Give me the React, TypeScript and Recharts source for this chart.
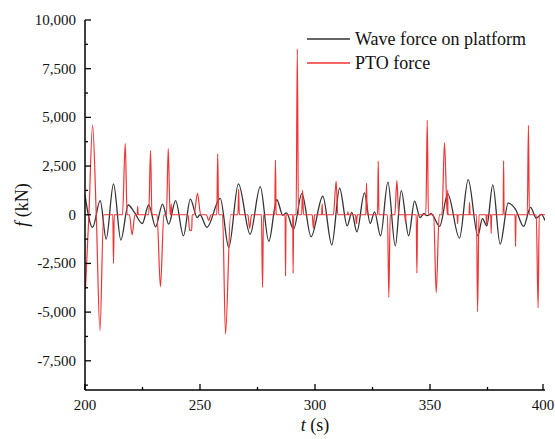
import React from "react";
import { LineChart, Line, XAxis, YAxis, Legend } from "recharts";

// wave force on platform: turning points (t in s, f in kN)
const waveTime = [
  200, 203.3, 206.6, 209.2, 212.4, 215.6, 218.8, 221.5, 224.9, 227.7, 230.7, 233.7, 236.4,
  239.4, 242.8, 245.8, 248.8, 250.0, 253.0, 258.8, 262.5, 266.7, 271.8, 276.2, 279.9, 283.4,
  286.0, 287.6, 290.7, 294.3, 298.3, 303.4, 307.3, 310.7, 314.0, 316.0, 318.2, 321.5, 324.0,
  325.9, 328.5, 331.7, 334.9, 337.5, 340.7, 343.3, 345.7, 347.3, 348.8, 350.5, 354.2, 357.7,
  362.8, 366.6, 370.8, 372.8, 374.7, 377.3, 380.5, 384.0, 387.2, 390.7, 393.7, 396.2, 398.4,
  400,
];
const waveForce = [
  1000, -650, 720, -1250, 1580, -1300, 500, 120, -450, 500, -620, 550, -480,
  720, -1080, 800, -150, 0, -650, 840, -1680, 1580, -1000, 1440, -1370, 770,
  -30, 100, -740, 1100, -1130, 950, -1550, 1360, -570, 120, -880, 1120, -450,
  150, -1080, 1670, -1600, 1240, -1080, 700, -150, 50, -50, 50, -600, 1070,
  -1200, 1800, -1080, -200, -570, 1530, -1510, 600, 280, -600, 380, -170, 20,
  -300,
];

// PTO force: zero with pulses
const ptoTime = [
  200.2, 201.7, 203.3, 204.9, 206.5, 208.1,
  212.1, 212.4, 212.7,
  216.3, 217.5, 218.3,
  219.3, 220.5, 221.7,
  222.7, 222.9, 223.1,
  227.7, 228.5, 229.1,
  231.3, 232.8, 234.3,
  235.4, 236.2, 237.0,
  237.3, 237.5, 237.7,
  244.8, 245.5, 246.4, 246.6,
  247.4, 248.9, 250.3,
  252.8, 253.8, 254.8,
  257.3, 257.7, 258.1,
  259.8, 261.1, 263.3,
  266.5, 266.8, 267.1,
  270.8, 271.6, 272.4,
  276.7, 277.2, 277.6,
  282.5, 282.8, 283.1,
  287.0, 287.2, 287.4,
  290.3, 290.5, 290.7,
  291.8, 292.3, 292.8,
  294.2, 294.6, 295.0,
  298.8, 299.3, 299.8,
  302.9, 303.1, 303.3,
  308.0, 309.2, 309.9,
  314.1, 314.3, 314.5,
  317.6, 318.0, 318.4,
  322.1, 322.4, 322.7,
  327.2, 327.5, 327.8,
  331.5, 332.1, 332.7,
  334.7, 335.6, 336.4,
  339.1, 339.3, 339.5,
  344.0, 344.3, 344.6,
  348.2, 348.8, 349.3,
  351.6, 352.7, 354.0,
  355.2, 356.3, 357.5,
  357.6, 357.7, 357.8,
  361.8, 362.0, 362.2,
  367.0, 367.2, 367.4,
  370.2, 370.7, 371.3,
  374.4, 374.6, 374.8,
  376.4, 376.6, 376.8,
  381.8, 382.0, 382.2,
  387.0, 387.2, 387.4,
  392.3, 392.8, 393.2,
  396.2, 397.0, 397.5, 400,
];
const ptoForce = [
  -3800, 0, 4600, 0, -5950, 0,
  0, -2500, 0,
  0, 3660, 0,
  0, -1030, 0,
  0, 430, 0,
  0, 3300, 0,
  0, -3700, 0,
  0, 3400, 0,
  0, 550, 0,
  0, -800, -800, 0,
  0, 1100, 0,
  0, -300, 0,
  0, 3130, 0,
  0, -6130, 0,
  0, 1300, 0,
  0, -700, 0,
  0, -3730, 0,
  0, 2800, 0,
  0, -3150, 0,
  0, -3000, 0,
  0, 8500, 0,
  0, 1250, 0,
  0, -700, 0,
  0, 550, 0,
  0, 1720, 0,
  0, 150, 0,
  0, -450, 0,
  0, 1630, 0,
  0, 2750, 0,
  0, -4230, 0,
  0, 1750, 0,
  0, -350, 0,
  0, -3000, 0,
  0, 4860, 0,
  0, -4000, 0,
  0, 3700, 0,
  0, 1270, 0,
  0, -450, 0,
  0, 640, 0,
  0, -4980, 0,
  0, -500, 0,
  0, -960, 0,
  0, 2780, 0,
  0, -1630, 0,
  0, 4590, 0,
  0, -4780, 0, 0,
];

const xTicks = [200, 225, 250, 275, 300, 325, 350, 375, 400];
const yTicks = [
  -8750, -7500, -6250, -5000, -3750, -2500, -1250, 0, 1250, 2500, 3750, 5000, 6250,
  7500, 8750, 10000,
];

const waveData = waveTime.map((t, i) => ({ t, f: waveForce[i] }));
const ptoData = ptoTime.map((t, i) => ({ t, f: ptoForce[i] }));

const FONT = "Liberation Serif";

function XTick(props: any) {
  const { x, y, payload } = props;
  const axisY = y - 4;
  const major = payload.value % 50 === 0;
  return (
    <g>
      <line x1={x} x2={x} y1={axisY} y2={axisY - (major ? 6 : 3)} stroke="#000" strokeWidth={1.3} />
      {major && (
        <text x={x} y={axisY + 20} textAnchor="middle" fontFamily={FONT} fontSize={15} fill="#111">
          {payload.value}
        </text>
      )}
    </g>
  );
}

function YTick(props: any) {
  const { x, y, payload } = props;
  const axisX = x + 4;
  const major = payload.value % 2500 === 0;
  return (
    <g>
      <line x1={axisX} x2={axisX + (major ? 6 : 3)} y1={y} y2={y} stroke="#000" strokeWidth={1.3} />
      {major && (
        <text x={axisX - 9} y={y} dy={5} textAnchor="end" fontFamily={FONT} fontSize={15} fill="#111">
          {payload.value.toLocaleString("en-US")}
        </text>
      )}
    </g>
  );
}

function XLabel(props: any) {
  const { viewBox } = props;
  return (
    <text x={viewBox.x + viewBox.width / 2} y={431} textAnchor="middle" fontFamily={FONT} fontSize={18} fill="#111">
      <tspan fontStyle="italic">t</tspan> (s)
    </text>
  );
}

function YLabel(props: any) {
  const { viewBox } = props;
  const cy = viewBox.y + viewBox.height / 2;
  return (
    <text x={28} y={cy} transform={`rotate(-90 28 ${cy})`} textAnchor="middle" fontFamily={FONT} fontSize={18} fill="#111">
      <tspan fontStyle="italic">f</tspan> (kN)
    </text>
  );
}

function LegendBox(props: any) {
  const { payload } = props;
  const order = ["Wave force on platform", "PTO force"];
  const items = [...(payload || [])].sort((a: any, b: any) => order.indexOf(a.value) - order.indexOf(b.value));
  return (
    <div style={{ fontFamily: FONT, fontSize: 18, color: "#111" }}>
      {items.map((e: any) => (
        <div key={e.value} style={{ display: "flex", alignItems: "center", height: 24 }}>
          <svg width={43} height={4}>
            <line x1={0} x2={43} y1={2} y2={2} stroke={e.color} strokeWidth={1.5} />
          </svg>
          <span style={{ marginLeft: 5, whiteSpace: "nowrap" }}>{e.value}</span>
        </div>
      ))}
    </div>
  );
}

export default function App() {
  return (
    <div style={{ position: "absolute", left: 0, top: 0, background: "#fff", fontFamily: FONT }}>
      <LineChart
        width={555}
        height={439}
        margin={{ top: 20, right: 10, bottom: 0, left: 0 }}
        style={{ fontFamily: FONT }}
      >
        <XAxis
          type="number"
          dataKey="t"
          domain={[200, 400]}
          ticks={xTicks}
          height={49}
          tickSize={0}
          tickMargin={4}
          tick={<XTick />}
          axisLine={{ stroke: "#000", strokeWidth: 1.5 }}
          allowDataOverflow
          label={<XLabel />}
        />
        <XAxis
          xAxisId="top"
          orientation="top"
          type="number"
          domain={[200, 400]}
          height={0}
          tick={false}
          tickLine={false}
          axisLine={{ stroke: "#000", strokeWidth: 1.5 }}
        />
        <YAxis
          type="number"
          domain={[-9000, 10000]}
          ticks={yTicks}
          width={85}
          tickSize={0}
          tickMargin={4}
          tick={<YTick />}
          axisLine={{ stroke: "#000", strokeWidth: 1.5 }}
          allowDataOverflow
          label={<YLabel />}
        />
        <YAxis
          yAxisId="right"
          orientation="right"
          type="number"
          domain={[-9000, 10000]}
          width={0}
          tick={false}
          tickLine={false}
          axisLine={{ stroke: "#000", strokeWidth: 1.5 }}
        />
        <Legend
          layout="vertical"
          align="center"
          verticalAlign="middle"
          content={<LegendBox />}
          wrapperStyle={{ position: "absolute", left: 307, top: 27, width: 248 }}
        />
        <Line
          data={waveData}
          dataKey="f"
          name="Wave force on platform"
          type="monotone"
          stroke="#333"
          strokeWidth={1.3}
          dot={false}
          isAnimationActive={false}
        />
        <Line
          data={ptoData}
          dataKey="f"
          name="PTO force"
          type="monotone"
          stroke="#f03434"
          strokeWidth={1.2}
          dot={false}
          isAnimationActive={false}
        />
      </LineChart>
    </div>
  );
}
